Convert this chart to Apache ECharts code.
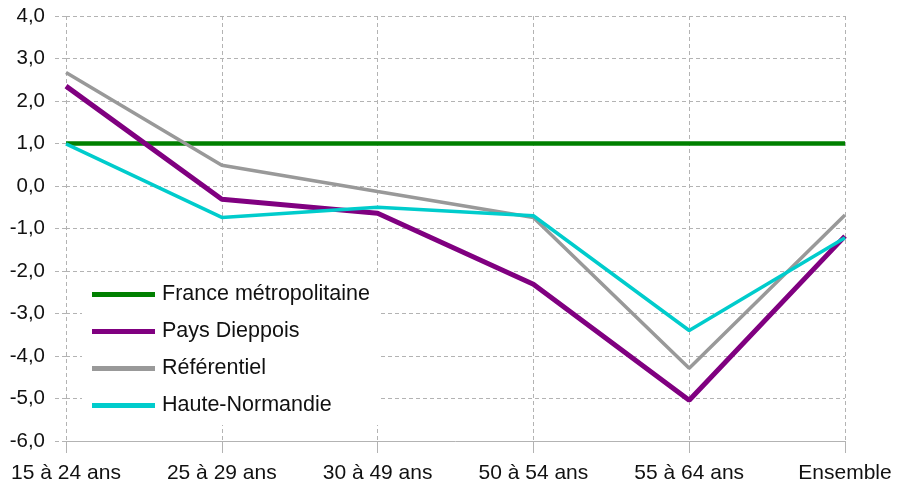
<!DOCTYPE html>
<html>
<head>
<meta charset="utf-8">
<script src="https://cdn.jsdelivr.net/npm/echarts@6/dist/echarts.min.js"></script>
<style>
  html, body { margin: 0; padding: 0; background: #ffffff; }
  #chart { width: 906px; height: 489px; }
</style>
</head>
<body>
<div id="chart"></div>
<script>
// tranches d'âge
var categories = ['15 à 24 ans', '25 à 29 ans', '30 à 49 ans', '50 à 54 ans', '55 à 64 ans', 'Ensemble'];

var franceMetro = [1.0, 1.0, 1.0, 1.0, 1.0, 1.0];
var paysDieppois = [2.35, -0.31, -0.64, -2.31, -5.04, -1.18];
var referentiel = [2.67, 0.49, -0.13, -0.74, -4.29, -0.68];
var hauteNormandie = [0.99, -0.74, -0.5, -0.7, -3.4, -1.22];

var yMin = -6, yMax = 4, yStep = 1;

var font = '"Liberation Sans", Arial, sans-serif';
var gridColor = '#b3b3b3';

var chart = echarts.init(document.getElementById('chart'), null, { renderer: 'canvas' });

function serie(name, data, color, width) {
  return {
    name: name,
    type: 'line',
    data: data,
    showSymbol: false,
    symbol: 'none',
    lineStyle: { color: color, width: width },
    itemStyle: { color: color }
  };
}

var option = {
  backgroundColor: '#ffffff',
  animation: false,
  grid: { left: 66, right: 61, top: 16, bottom: 48 },
  legend: {
    orient: 'vertical',
    left: 82,
    top: 275,
    padding: [8, 10, 8, 10],
    backgroundColor: '#ffffff',
    itemWidth: 63,
    itemHeight: 5,
    itemGap: 14,
    icon: 'rect',
    textStyle: { fontFamily: font, fontSize: 21.5, color: '#111', lineHeight: 23, padding: [0, 0, 0, 2] },
    data: ['France métropolitaine', 'Pays Dieppois', 'Référentiel', 'Haute-Normandie']
  },
  xAxis: {
    type: 'category',
    data: categories,
    boundaryGap: false,
    axisLine: { onZero: false, lineStyle: { color: gridColor, width: 1 } },
    axisTick: { show: true, length: 12, lineStyle: { color: gridColor } },
    axisLabel: { fontFamily: font, fontSize: 21, color: '#111', margin: 22 },
    splitLine: { show: true, lineStyle: { color: gridColor, type: [4, 3] } }
  },
  yAxis: {
    type: 'value',
    min: yMin,
    max: yMax,
    interval: yStep,
    axisLine: { show: false },
    axisTick: { show: true, length: 13, lineStyle: { color: gridColor, type: [4, 3] } },
    axisLabel: {
      fontFamily: font, fontSize: 20.5, color: '#111', margin: 21,
      formatter: function (v) { return v.toFixed(1).replace('.', ','); }
    },
    splitLine: { show: true, lineStyle: { color: gridColor, type: [4, 3] } }
  },
  series: [
    serie('France métropolitaine', franceMetro, '#008000', 4.5),
    serie('Pays Dieppois', paysDieppois, '#800080', 5),
    serie('Référentiel', referentiel, '#999999', 3.5),
    serie('Haute-Normandie', hauteNormandie, '#00cccc', 3.5)
  ]
};

chart.setOption(option);
</script>
</body>
</html>
